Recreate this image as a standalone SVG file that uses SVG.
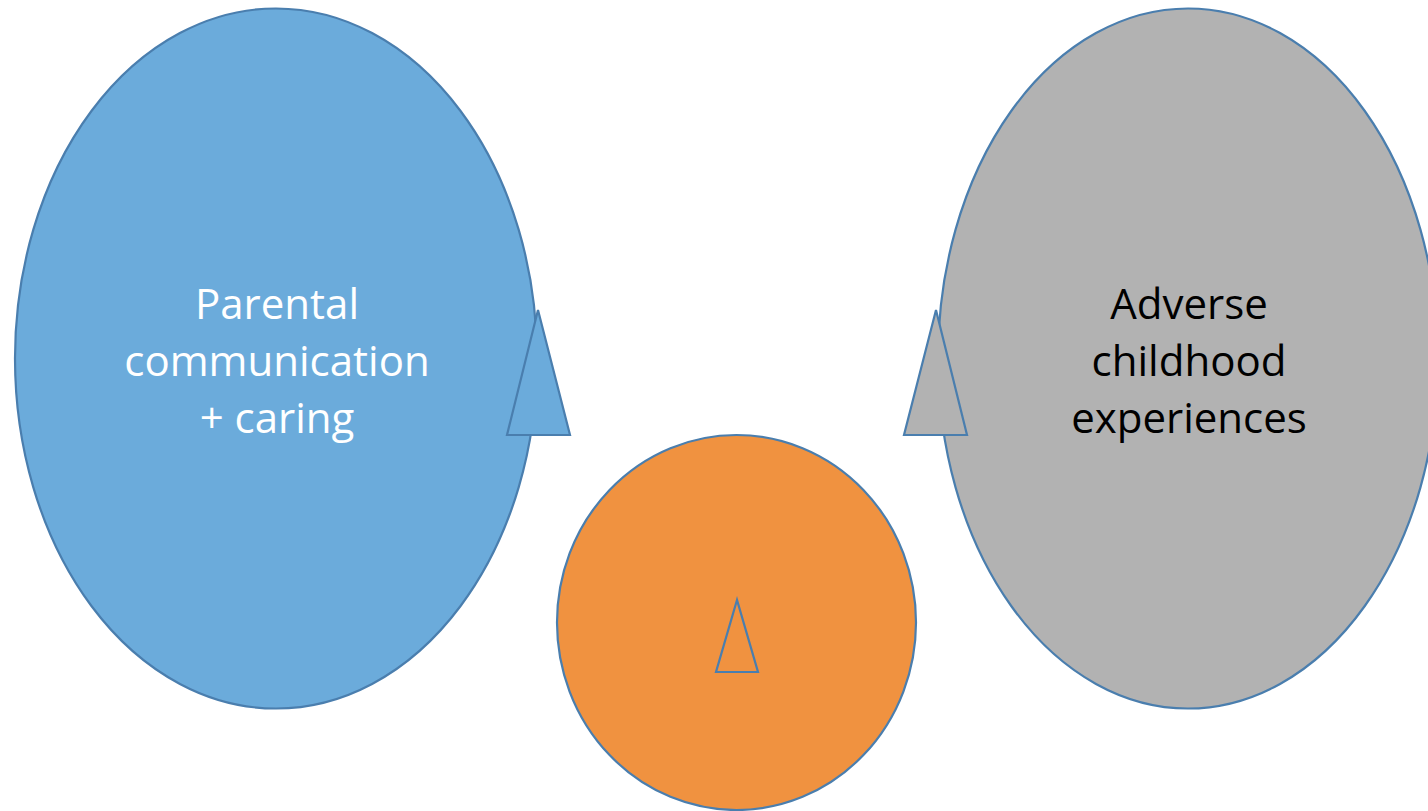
<svg xmlns="http://www.w3.org/2000/svg" width="1428" height="811" viewBox="0 0 1428 811">
<style>
.shape{stroke:#4A7EAE;stroke-width:2.2}
.blue{fill:#6BABDB}
.gray{fill:#B2B2B2}
.orange{fill:#F09240}
.lbl{font-family:"Open Sans","Noto Sans","Liberation Sans",sans-serif;font-size:42px;text-anchor:middle}
</style>
<rect width="1428" height="811" fill="#FFFFFF"/>
<g id="node-parental">
<ellipse class="shape blue" cx="276" cy="358.5" rx="261" ry="350"/>
<text class="lbl" fill="#FFFFFF"><tspan x="277" y="319">Parental</tspan><tspan x="277" y="376">communication</tspan><tspan x="277" y="433">+ caring</tspan></text>
</g>
<g id="node-adverse">
<ellipse class="shape gray" cx="1188" cy="358.5" rx="250" ry="350"/>
<text class="lbl" fill="#000000"><tspan x="1189" y="319">Adverse</tspan><tspan x="1189" y="376">childhood</tspan><tspan x="1189" y="433">experiences</tspan></text>
</g>
<g id="node-center">
<ellipse class="shape orange" cx="736.5" cy="622.5" rx="179.5" ry="187.5"/>
</g>
<g id="triangle-left">
<polygon class="shape blue" points="538,310 507,435 570,435"/>
</g>
<g id="triangle-right">
<polygon class="shape gray" points="936,310 904,435 967,435"/>
</g>
<g id="triangle-center">
<polygon class="shape orange" points="737,600 716,672 758,672"/>
</g>
</svg>
